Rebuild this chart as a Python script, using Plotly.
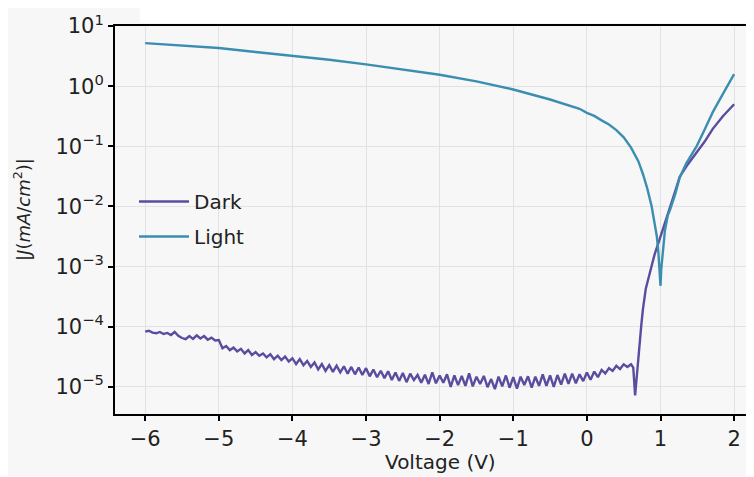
import plotly.graph_objects as go

# ---------------- data ----------------
light_v = [-6.0, -5.5, -5.0, -4.5, -4.0, -3.5, -3.0, -2.5, -2.0, -1.5, -1.0, -0.5,
           -0.1, 0.0, 0.1, 0.2, 0.3, 0.4, 0.5, 0.6, 0.7, 0.76, 0.82,
           0.88, 0.92, 0.95, 0.97, 0.99, 1.0, 1.01, 1.03, 1.06, 1.1, 1.13, 1.2, 1.26,
           1.35, 1.49, 1.6, 1.71, 1.85, 2.0]
light_j = [5.2, 4.7, 4.3, 3.7, 3.2, 2.75, 2.3, 1.9, 1.55, 1.2, 0.88, 0.6,
           0.42, 0.36, 0.32, 0.27, 0.23, 0.186, 0.141, 0.095, 0.056, 0.035, 0.02,
           0.010, 0.0056, 0.0032, 0.0018, 0.0008, 0.00048, 0.0009, 0.0018,
           0.004, 0.0072, 0.0088, 0.016, 0.03, 0.052, 0.1, 0.19, 0.37, 0.75, 1.58]

dark_v = [-6.00, -5.95, -5.90, -5.85, -5.80, -5.75, -5.70, -5.65, -5.60, -5.55,
          -5.50, -5.45, -5.40, -5.35, -5.30, -5.25, -5.20, -5.15, -5.10, -5.05,
          -5.00, -4.95, -4.90, -4.85, -4.80, -4.75, -4.70, -4.65, -4.60, -4.55,
          -4.50, -4.45, -4.40, -4.35, -4.30, -4.25, -4.20, -4.15, -4.10, -4.05,
          -4.00, -3.95, -3.90, -3.85, -3.80, -3.75, -3.70, -3.65, -3.60, -3.55,
          -3.50, -3.45, -3.40, -3.35, -3.30, -3.25, -3.20, -3.15, -3.10, -3.05,
          -3.00, -2.95, -2.90, -2.85, -2.80, -2.75, -2.70, -2.65, -2.60, -2.55,
          -2.50, -2.45, -2.40, -2.35, -2.30, -2.25, -2.20, -2.15, -2.10, -2.05,
          -2.00, -1.95, -1.90, -1.85, -1.80, -1.75, -1.70, -1.65, -1.60, -1.55,
          -1.50, -1.45, -1.40, -1.35, -1.30, -1.25, -1.20, -1.15, -1.10, -1.05,
          -1.00, -0.95, -0.90, -0.85, -0.80, -0.75, -0.70, -0.65, -0.60, -0.55,
          -0.50, -0.45, -0.40, -0.35, -0.30, -0.25, -0.20, -0.15, -0.10, -0.05,
          0.00, 0.05, 0.10, 0.15, 0.20, 0.25, 0.30, 0.35, 0.40, 0.45,
          0.50, 0.55, 0.60, 0.63, 0.655, 0.70, 0.72, 0.74, 0.76, 0.80,
          0.86, 0.92, 0.99, 1.06, 1.13, 1.20, 1.26, 1.37, 1.49, 1.60,
          1.71, 1.85, 2.00]
dark_j = [8.3e-5, 8.6e-5, 8.0e-5, 7.8e-5, 8.2e-5, 7.6e-5, 7.9e-5, 7.3e-5, 8.2e-5, 7.1e-5,
          6.5e-5, 6.2e-5, 7.0e-5, 6.3e-5, 7.2e-5, 6.4e-5, 7.0e-5, 6.1e-5, 6.6e-5, 5.9e-5,
          6.0e-5, 4.4e-5, 4.8e-5, 4.1e-5, 4.5e-5, 3.9e-5, 4.3e-5, 3.6e-5, 4.1e-5, 3.4e-5,
          3.8e-5, 3.3e-5, 3.6e-5, 3.1e-5, 3.5e-5, 2.9e-5, 3.3e-5, 2.8e-5, 3.2e-5, 2.65e-5,
          3.0e-5, 2.4e-5, 2.9e-5, 2.3e-5, 2.7e-5, 2.15e-5, 2.55e-5, 1.95e-5, 2.4e-5, 1.85e-5,
          2.3e-5, 1.78e-5, 2.25e-5, 1.75e-5, 2.2e-5, 1.66e-5, 2.15e-5, 1.62e-5, 2.1e-5, 1.58e-5,
          2.05e-5, 1.5e-5, 1.95e-5, 1.45e-5, 1.86e-5, 1.4e-5, 1.82e-5, 1.3e-5, 1.74e-5, 1.26e-5,
          1.7e-5, 1.2e-5, 1.66e-5, 1.3e-5, 1.58e-5, 1.17e-5, 1.6e-5, 1.12e-5, 1.75e-5, 1.15e-5,
          1.55e-5, 1.17e-5, 1.62e-5, 1.0e-5, 1.55e-5, 1.07e-5, 1.52e-5, 1.04e-5, 1.68e-5, 1.02e-5,
          1.48e-5, 1.12e-5, 1.52e-5, 0.99e-5, 1.35e-5, 0.92e-5, 1.48e-5, 1.02e-5, 1.55e-5, 0.97e-5,
          1.45e-5, 0.94e-5, 1.48e-5, 1.08e-5, 1.5e-5, 0.97e-5, 1.48e-5, 1.04e-5, 1.62e-5, 1.04e-5,
          1.55e-5, 1.0e-5, 1.58e-5, 1.09e-5, 1.66e-5, 1.12e-5, 1.66e-5, 1.15e-5, 1.62e-5, 1.25e-5,
          1.74e-5, 1.32e-5, 1.8e-5, 1.45e-5, 1.92e-5, 1.68e-5, 2.05e-5, 1.85e-5, 2.25e-5, 1.98e-5,
          2.38e-5, 2.15e-5, 2.38e-5, 2.1e-5, 7.2e-6, 3.5e-5, 6.3e-5, 1.1e-4, 1.9e-4, 4.3e-4,
          8.3e-4, 1.6e-3, 2.9e-3, 5.5e-3, 0.01, 0.018, 0.031, 0.05, 0.079, 0.12,
          0.195, 0.32, 0.5]

x_ticks = [-6, -5, -4, -3, -2, -1, 0, 1, 2]
y_ticks = [1e-5, 1e-4, 1e-3, 1e-2, 1e-1, 1e0, 1e1]
y_tick_labels = ["10<sup>−5</sup>", "10<sup>−4</sup>", "10<sup>−3</sup>", "10<sup>−2</sup>",
                 "10<sup>−1</sup>", "10<sup>0</sup>", "10<sup>1</sup>"]

# ---------------- figure ----------------
DARK_COLOR = "#5a4c9e"
LIGHT_COLOR = "#3b8eb0"
BG = "#f7f7f7"
FONT = "DejaVu Sans"

OFF = 8  # page body margin in the browser
W, H = 754 - OFF, 477 - OFF
# screen-pixel plot box
SL, ST, SB = 115, 26, 414
L, T = SL - OFF, ST - OFF
B = H - (SB - OFF)
R = 0
pw, ph = W - L - R, H - T - B


def px(x):  # screen x -> paper
    return (x - OFF - L) / pw


def py(y):  # screen y -> paper
    return (H - B - (y - OFF)) / ph


fig = go.Figure()
fig.add_trace(go.Scatter(x=dark_v, y=dark_j, mode="lines", name="Dark",
                         line=dict(color=DARK_COLOR, width=2.4), legendgroup="a"))
fig.add_trace(go.Scatter(x=light_v, y=light_j, mode="lines", name="Light",
                         line=dict(color=LIGHT_COLOR, width=2.4), legendgroup="b"))

fig.update_layout(
    width=W, height=H,
    margin=dict(l=L, r=R, t=T, b=B, pad=0),
    paper_bgcolor="white",
    plot_bgcolor=BG,
    font=dict(family=FONT, color="#222222", size=20),
    showlegend=True,
    legend=dict(x=px(134), y=py(219), xanchor="left", yanchor="middle",
                bgcolor="rgba(0,0,0,0)", font=dict(size=20, family=FONT),
                traceorder="grouped", tracegroupgap=6, itemwidth=50),
    xaxis=dict(range=[-6.41, 2.27], tickvals=x_ticks, ticks="outside", ticklen=5,
               tickwidth=1.5, tickcolor="black", showline=True, linecolor="black",
               linewidth=2, mirror=True, showgrid=True, gridcolor="#e2e2e2",
               gridwidth=1, zeroline=False, tickfont=dict(size=21)),
    yaxis=dict(type="log", range=[-5.45, 1.0], tickvals=y_ticks, ticktext=y_tick_labels,
               ticks="outside", ticklen=5, tickwidth=1.5, tickcolor="black",
               showline=True, linecolor="black", linewidth=2, mirror=False,
               showgrid=True, gridcolor="#e2e2e2", gridwidth=1, zeroline=False,
               tickfont=dict(size=21)),
    shapes=[
        dict(type="rect", xref="paper", yref="paper", x0=px(8), x1=px(748),
             y0=py(476), y1=py(5), fillcolor=BG, line=dict(width=0), layer="below"),
        dict(type="rect", xref="paper", yref="paper", x0=px(140), x1=px(770),
             y0=py(23), y1=py(-5), fillcolor="white", line=dict(width=0), layer="below"),
    ],
    annotations=[
        dict(text="Voltage (V)", xref="paper", yref="paper", x=px(440), y=py(462),
             xanchor="center", yanchor="middle", showarrow=False,
             font=dict(size=20, family=FONT)),
        dict(text="|<i>J</i>(<i>mA</i>/<i>cm</i><sup>2</sup>)|", xref="paper", yref="paper",
             x=px(22), y=py(210), xanchor="center", yanchor="middle", showarrow=False,
             textangle=-90, font=dict(size=18, family=FONT)),
    ],
)

fig.write_html("out.html")
